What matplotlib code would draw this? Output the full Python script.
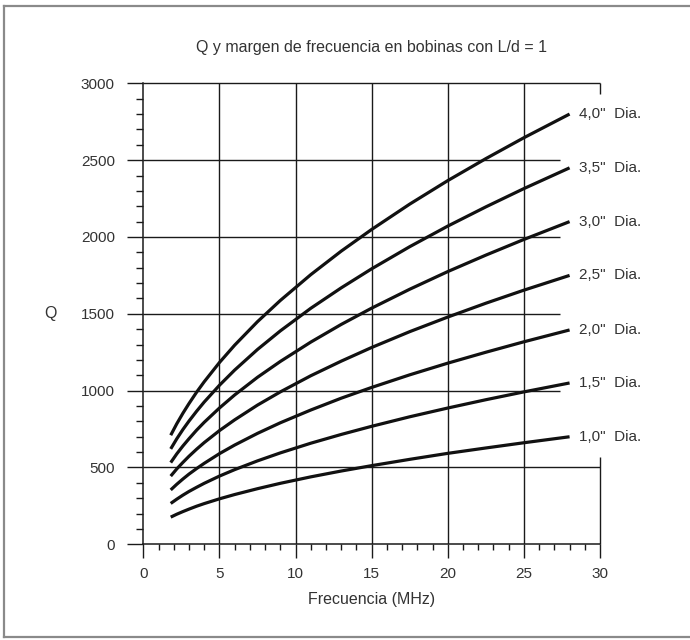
import numpy as np
import matplotlib
matplotlib.use('Agg')
import matplotlib.pyplot as plt
from matplotlib.lines import Line2D
from matplotlib.ticker import MultipleLocator

plt.rcParams['font.family'] = ['Liberation Sans Narrow', 'Liberation Sans', 'DejaVu Sans']

# Frequency points (MHz) where the curves were read
freq = [1.8, 2.2, 2.6, 3, 3.5, 4, 5, 6, 7.5, 9, 11, 13, 15, 17.5, 20, 22.5, 25, 28]

# Q values, one list per coil diameter
q_40 = [710, 785, 853, 916, 990, 1058, 1183, 1296, 1449, 1587, 1755, 1908,
        2049, 2214, 2367, 2510, 2646, 2800]
q_35 = [621, 687, 747, 802, 866, 926, 1035, 1134, 1268, 1389, 1536, 1669,
        1793, 1937, 2071, 2196, 2315, 2450]
q_30 = [532, 589, 640, 687, 743, 794, 887, 972, 1087, 1190, 1316, 1431,
        1537, 1660, 1775, 1882, 1984, 2100]
q_25 = [444, 491, 533, 573, 619, 662, 740, 810, 906, 992, 1097, 1192,
        1281, 1384, 1479, 1569, 1654, 1750]
q_20 = [354, 391, 425, 457, 493, 527, 590, 646, 722, 791, 874, 951,
        1021, 1103, 1179, 1250, 1318, 1395]
q_15 = [266, 294, 320, 344, 371, 397, 444, 486, 543, 595, 658, 715,
        768, 830, 887, 941, 992, 1050]
q_10 = [177, 196, 213, 229, 248, 265, 296, 324, 362, 397, 439, 477,
        512, 553, 592, 627, 661, 700]

curves = [q_40, q_35, q_30, q_25, q_20, q_15, q_10]
labels = ['4,0"  Dia.', '3,5"  Dia.', '3,0"  Dia.', '2,5"  Dia.',
          '2,0"  Dia.', '1,5"  Dia.', '1,0"  Dia.']

ink = '#1a1a1a'
txt = '#333333'

fig = plt.figure(figsize=(6.9, 6.4), dpi=100)
ax = fig.add_axes((0.2077, 0.1495, 0.6619, 0.7203))
ax.set_xlim(0, 30)
ax.set_ylim(0, 3000)

# spines: only left and bottom as full lines
ax.spines['right'].set_visible(False)
ax.spines['top'].set_visible(False)
for s in ['left', 'bottom']:
    ax.spines[s].set_color(ink)
    ax.spines[s].set_linewidth(1.1)

# grid drawn by hand, the upper horizontal lines stop before the labels
ax.vlines([5, 10, 15, 20, 25], 0, 3000, color=ink, lw=1.0, zorder=1)
ax.hlines([1000, 1500, 2000, 2500], 0, 27.4, color=ink, lw=1.0, zorder=1)
ax.hlines([500, 3000], 0, 30, color=ink, lw=1.0, zorder=1, clip_on=False)
ax.vlines(30, 0, 570, color=ink, lw=1.0, zorder=1, clip_on=False)
ax.vlines(30, 2930, 3000, color=ink, lw=1.0, zorder=1, clip_on=False)

ax.xaxis.set_major_locator(MultipleLocator(5))
ax.xaxis.set_minor_locator(MultipleLocator(1))
ax.yaxis.set_major_locator(MultipleLocator(500))
ax.yaxis.set_minor_locator(MultipleLocator(100))
ax.tick_params(axis='x', which='major', length=10, width=1.0, color=ink,
               direction='out', pad=6, labelsize=11, labelcolor=txt)
ax.tick_params(axis='x', which='minor', length=4.5, width=1.0, color=ink,
               direction='out')
ax.tick_params(axis='y', which='major', length=11.5, width=1.0, color=ink,
               direction='out', pad=9, labelsize=11, labelcolor=txt)
ax.tick_params(axis='y', which='minor', length=5, width=1.0, color=ink,
               direction='out')

for q, lab in zip(curves, labels):
    ax.plot(freq, q, color='#111111', lw=2.3, solid_capstyle='butt',
            solid_joinstyle='round', zorder=3)
    ax.text(freq[-1] + 0.6, q[-1], lab, fontsize=11, color=txt,
            ha='left', va='center', clip_on=False)

ax.set_xlabel('Frecuencia (MHz)', fontsize=11.5, color=txt, labelpad=8)
ax.set_ylabel('Q', fontsize=11.5, color=txt, rotation=0, ha='center', va='center')
ax.yaxis.set_label_coords(-0.204, 1500 / 3000)
fig.text(0.538, 0.926, 'Q y margen de frecuencia en bobinas con L/d = 1',
         fontsize=11.5, color=txt, ha='center', va='center')

# grey frame round the figure (open on the right)
border = '#8a8a8a'
fig.add_artist(Line2D([0.006, 1.0], [0.99, 0.99], color=border, lw=1.6))
fig.add_artist(Line2D([0.006, 0.006], [0.004, 0.99], color=border, lw=1.6))
fig.add_artist(Line2D([0.006, 1.0], [0.004, 0.004], color=border, lw=1.6))

fig.savefig('out.png', dpi=100)
